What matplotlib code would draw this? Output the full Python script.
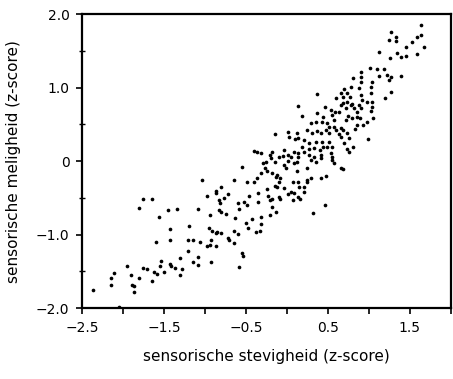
import numpy as np
import matplotlib
matplotlib.use("Agg")
import matplotlib.pyplot as plt
from matplotlib.ticker import FixedLocator, FixedFormatter

# sensorische stevigheid (x) en meligheid (y), z-scores
stevigheid = [
    # lage waarden
    -2.37, -2.15, -2.14, -2.11, -2.05, -1.95, -1.90, -1.89, -1.87, -1.87,
    -1.80, -1.80, -1.76, -1.76, -1.71, -1.65, -1.65, -1.62, -1.60, -1.56,
    -1.58, -1.55, -1.50, -1.53, -1.45, -1.43, -1.42, -1.43, -1.41, -1.34,
    -1.37, -1.30, -1.31, -1.28, -1.21, -1.19, -1.21, -1.15, -1.15, -1.09,
    -1.09, -1.09, -1.03, -0.98,
    # midden onder
    -0.64, -0.49, -0.40, -0.36, -0.13, -0.08, 0.08, -0.14, -0.12, -0.03,
    0.13, -0.87, -0.86, -0.80, -0.83, -0.82, -0.77, -0.72, -0.60, -0.52,
    -0.49, -0.46, -0.35, -0.35, -0.24, -0.23, -0.20, -0.18, -0.09, -0.08,
    0.05, 0.09, 0.07, 0.13, -0.18, -0.13, -0.21, -0.94, -0.83, -0.80,
    -0.74, -0.59, -0.63, -0.50, -0.43, -0.31, -0.32, -0.48, -0.38, -0.33,
    -0.95, -0.91, -0.87, -0.85, -0.80, -0.64, -0.60, -1.06, -0.98, -0.94,
    -0.92, -0.87, -0.72, -0.70, -0.65, -0.55, -0.53, -0.93, -0.59, -0.55,
    # rond nul
    0.13, -0.14, 0.02, 0.03, 0.12, 0.10, -0.40, -0.03, 0.01, 0.13,
    0.12, -0.19, -0.09, -0.05, -0.29, -0.25, -0.15, -0.04, -0.01, -0.27,
    -0.24, -0.18, -0.12, -0.31, 0.12, 0.09, -0.37, -0.31, -0.21, -0.18,
    0.02, 0.05, -0.10, 0.01, 0.09,
    0.30, 0.36, 0.42, 0.55, 0.58, 0.66, 0.69, 0.25, 0.15, 0.21,
    0.24, 0.30, 0.42, 0.48, 0.16, 0.32, 0.46, 0.25, 0.21,
    # midden boven
    1.05, 0.93, 0.83, 0.74, 0.76, 0.99, 0.64, 0.60, 0.70, 0.74,
    0.81, 0.76, 0.55, 0.49, 0.44, 0.40, 0.24, 0.31, 0.37, 0.42,
    0.48, 0.52, 0.68, 0.21, 0.27, 0.36, 0.43, 0.52, 0.66, 0.33,
    0.27, 0.18, 0.21, 0.27, 0.33, 0.42, 0.54, 0.55, 0.13, 0.13,
    0.19, 0.30, 0.36, 0.43, 0.49, 0.52, 0.58, 0.66, 0.72, 0.86,
    0.98, 0.37, 0.44, 0.55, 0.58, 0.75, 0.89, 0.59, 0.64, 0.85,
    0.86, 1.03, 0.46, 0.54, 0.66, 0.72, 0.78, 0.82, 0.88, 0.91,
    0.98, 1.04, 0.37, 0.66, 0.74, 0.77, 1.27, 0.91, 1.20, 1.03,
    1.04, 0.92, 0.74, 0.68, 0.78, 1.03, 0.91, 1.04, 1.25, 0.81,
    0.91, 0.91, 1.02, 1.10, 1.19, 1.13, 1.22, 1.27, 1.39, 0.88,
    0.70, 0.60, 0.69, 0.80, 0.80,
    # hoge waarden
    1.64, 1.27, 1.33, 1.33, 1.25, 1.59, 1.64, 1.53, 1.45, 1.67,
    1.13, 1.34, 1.39, 1.45, 1.59, 1.26,
]

meligheid = [
    -1.76, -1.69, -1.59, -1.52, -1.99, -1.43, -1.55, -1.69, -1.70, -1.78,
    -1.59, -0.64, -0.52, -1.46, -1.47, -0.52, -1.63, -1.51, -1.10, -0.76,
    -1.54, -1.43, -1.51, -1.36, -0.67, -1.40, -0.93, -1.07, -1.43, -0.65,
    -1.46, -1.55, -1.32, -1.47, -1.22, -0.88, -1.07, -1.37, -1.07, -0.65,
    -1.31, -1.41, -0.26, -0.48,
    -0.26, -0.29, -0.29, -0.23, -0.22, -0.23, -0.29, -0.34, -0.35, -0.37,
    -0.29, -0.41, -0.44, -0.35, -0.53, -0.57, -0.50, -0.45, -0.57, -0.56,
    -0.60, -0.48, -0.44, -0.56, -0.38, -0.48, -0.53, -0.52, -0.49, -0.52,
    -0.42, -0.44, -0.53, -0.49, -0.63, -0.69, -0.73, -0.73, -0.67, -0.69,
    -0.72, -0.65, -0.78, -0.84, -0.79, -0.76, -0.86, -0.91, -0.97, -0.95,
    -0.91, -0.95, -0.98, -0.97, -0.98, -0.95, -0.99, -1.10, -1.16, -1.14,
    -1.07, -1.16, -1.05, -1.07, -1.12, -1.25, -1.29, -1.37, -1.44, -0.08,
    0.75, 0.37, 0.39, 0.33, 0.38, 0.30, 0.14, 0.15, 0.08, 0.11,
    -0.01, 0.04, 0.05, 0.07, -0.03, -0.01, -0.01, -0.05, -0.10, -0.10,
    -0.14, -0.16, -0.19, -0.16, -0.14, -0.03, 0.12, 0.11, 0.08, 0.12,
    0.00, 0.05, -0.29, -0.45, 0.12,
    0.01, -0.01, 0.04, 0.05, -0.03, -0.10, -0.11, -0.10, -0.35, -0.35,
    -0.26, -0.23, -0.23, -0.20, -0.52, -0.71, -0.60, -0.29, -0.42,
    0.59, 0.49, 0.44, 0.38, 0.31, 0.30, 0.37, 0.42, 0.24, 0.16,
    0.19, 0.12, 0.19, 0.19, 0.19, 0.15, 0.42, 0.38, 0.41, 0.38,
    0.42, 0.38, 0.42, 0.29, 0.24, 0.26, 0.26, 0.26, 0.33, 0.18,
    0.16, 0.19, 0.12, 0.08, 0.05, 0.08, 0.11, 0.01, 0.05, 0.31,
    0.61, 0.52, 0.53, 0.53, 0.52, 0.46, 0.46, 0.45, 0.56, 0.49,
    0.53, 0.65, 0.60, 0.63, 0.56, 0.61, 0.59, 0.67, 0.67, 0.67,
    0.60, 0.68, 0.73, 0.69, 0.76, 0.72, 0.76, 0.72, 0.76, 0.72,
    0.80, 0.73, 0.91, 0.93, 0.93, 0.87, 0.94, 0.90, 0.86, 0.93,
    0.80, 0.83, 0.80, 0.79, 1.01, 1.01, 1.07, 1.07, 1.10, 1.13,
    1.14, 1.21, 1.27, 1.25, 1.25, 1.16, 1.17, 1.14, 1.16, 0.99,
    0.98, 0.86, 0.87, 0.78, 0.59,
    1.85, 1.76, 1.69, 1.63, 1.65, 1.69, 1.71, 1.62, 1.55, 1.55,
    1.48, 1.47, 1.41, 1.43, 1.46, 1.40,
]

x_ticks = [-2.5, -2.0, -1.5, -1.0, -0.5, 0.0, 0.5, 1.0, 1.5, 2.0]
x_labels = ["\u22122.5", "", "\u22121.5", "", "\u22120.5", "", "0.5", "", "1.5", ""]
y_major = [-2.0, -1.0, 0.0, 1.0, 2.0]
y_labels = ["\u22122.0", "\u22121.0", "0", "1.0", "2.0"]
y_minor = [-1.5, -0.5, 0.5, 1.5]

fig = plt.figure(figsize=(4.53, 3.79), dpi=100)
ax = fig.add_axes([0.181, 0.187, 0.814, 0.776])

ax.scatter(stevigheid, meligheid, s=7, c="black", linewidths=0)

ax.set_xlim(-2.5, 2.0)
ax.set_ylim(-2.0, 2.0)

ax.xaxis.set_major_locator(FixedLocator(x_ticks))
ax.xaxis.set_major_formatter(FixedFormatter(x_labels))
ax.yaxis.set_major_locator(FixedLocator(y_major))
ax.yaxis.set_major_formatter(FixedFormatter(y_labels))
ax.yaxis.set_minor_locator(FixedLocator(y_minor))

for side in ["left", "right", "top", "bottom"]:
    ax.spines[side].set_linewidth(1.6)
ax.tick_params(axis="both", which="major", direction="out", length=4,
               width=1.2, labelsize=10, pad=5)
ax.tick_params(axis="y", which="minor", direction="inout", length=4, width=1.0)

ax.set_xlabel("sensorische stevigheid (z-score)", fontsize=11, labelpad=10)
ax.set_ylabel("sensorische meligheid (z-score)", fontsize=11, labelpad=11)

fig.savefig("out.png", dpi=100)
